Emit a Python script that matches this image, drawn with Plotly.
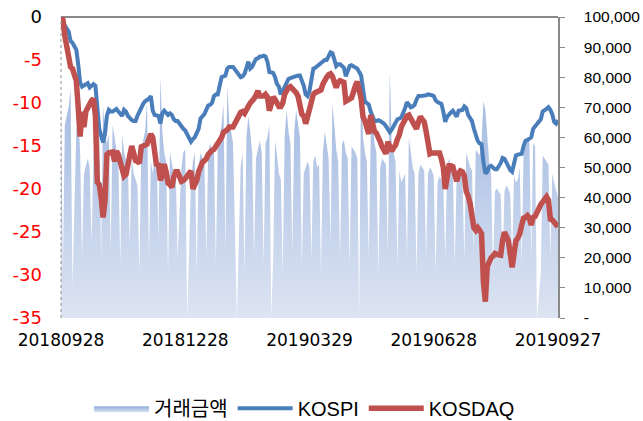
import pandas as pd
import plotly.graph_objects as go

start_date = "2018-09-28"
end_date = "2019-09-27"
market_holidays = ["2018-10-03", "2018-10-09", "2018-12-25", "2018-12-31", "2019-01-01",
                   "2019-02-04", "2019-02-05", "2019-02-06", "2019-03-01", "2019-05-01",
                   "2019-05-06", "2019-06-06", "2019-08-15", "2019-09-12", "2019-09-13"]
# closed days that appear in the trading-value series with a value of zero
zero_value_days = ["2018-12-31", "2019-02-05", "2019-03-01", "2019-05-06", "2019-09-12"]

tick_dates = ["2018-09-28", "2018-12-28", "2019-03-29", "2019-06-28", "2019-09-27"]
tick_labels = ["20180928", "20181228", "20190329", "20190628", "20190927"]

left_ticks = [-35, -30, -25, -20, -15, -10, -5, 0]
left_labels = ["-35", "-30", "-25", "-20", "-15", "-10", "-5", '<span style="color:#000000">0</span>']
right_ticks = [0, 10000, 20000, 30000, 40000, 50000, 60000, 70000, 80000, 90000, 100000]
right_labels = ["-", "10,000", "20,000", "30,000", "40,000", "50,000", "60,000", "70,000",
                "80,000", "90,000", "100,000"]

# KOSPI change (%) on each trading day
kospi = [0, -0.5, -1.0, -1.7, -2.8, -3.0, -3.8, -5.5, -7.6, -8.1,
         -8.0, -7.8, -7.7, -8.2, -8.0, -7.8, -8.0, -10.5, -13.0, -13.8,
         -14.6, -13.6, -11.5, -10.8, -11.0, -11.0, -10.9, -10.7, -11.0, -11.2,
         -11.5, -10.8, -11.0, -11.5, -11.8, -12.0, -12.1, -12.1, -11.5, -11.0,
         -10.5, -10.1, -9.8, -9.7, -9.5, -9.2, -10.9, -11.4, -11.4, -11.5,
         -12.4, -11.2, -10.9, -11.2, -11.4, -11.2, -11.4, -11.9, -12.1, -12.1,
         -12.8, -13.0, -13.2, -14.5, -14.2, -14.0, -13.5, -13.0, -11.8, -11.5,
         -11.3, -10.8, -10.3, -10.2, -10.0, -9.2, -9.0, -9.0, -8.0, -7.0,
         -6.9, -6.8, -6.0, -5.8, -5.8, -5.8, -7.0, -6.9, -6.6, -5.8,
         -5.2, -6.0, -5.8, -5.3, -4.9, -4.8, -4.6, -4.6, -4.5, -4.6,
         -5.2, -6.4, -6.5, -7.0, -7.8, -8.1, -9.0, -8.6, -8.2, -7.6,
         -7.2, -7.1, -7.0, -6.9, -6.9, -6.8, -6.8, -7.4, -8.0, -9.0,
         -9.2, -8.6, -7.5, -6.0, -5.9, -5.7, -5.6, -5.3, -5.1, -5.0,
         -5.0, -4.5, -4.1, -4.2, -5.0, -5.7, -5.5, -5.5, -5.7, -5.9,
         -6.9, -6.3, -5.7, -5.6, -5.8, -6.0, -6.8, -8.5, -9.9, -10.0,
         -10.2, -11.0, -11.6, -12.1, -12.1, -12.0, -12.1, -12.2, -12.4, -12.7,
         -13.0, -13.4, -13.1, -12.7, -12.3, -11.9, -11.8, -11.7, -10.6, -9.9,
         -10.2, -10.5, -10.4, -10.2, -9.6, -9.2, -9.2, -9.2, -9.2, -9.1,
         -9.0, -9.0, -9.1, -9.2, -9.7, -9.9, -10.0, -10.1, -11.0, -12.2,
         -11.6, -11.3, -11.1, -10.9, -11.2, -11.6, -10.9, -10.9, -10.8, -10.4,
         -10.6, -11.4, -11.8, -12.1, -13.0, -13.8, -14.4, -14.7, -14.8, -16.9,
         -18.2, -18.0, -17.4, -17.3, -17.5, -17.7, -17.7, -17.0, -16.4, -16.5,
         -16.9, -17.4, -17.8, -18.0, -17.0, -16.1, -16.0, -16.0, -15.9, -15.0,
         -14.4, -14.3, -14.2, -14.0, -13.0, -12.7, -11.9, -11.0, -10.9, -10.7,
         -10.5, -10.8, -11.3, -12.2, -12.4, -12.0]

# KOSDAQ change (%) on each trading day
kosdaq = [0, -0.3, -2.2, -5.0, -5.8, -6.0, -7.4, -10.5, -13.9, -11.0,
          -12.8, -11.0, -10.5, -10.1, -9.7, -9.5, -11.5, -19.2, -19.5, -21.0,
          -23.3, -21.4, -16.0, -15.8, -15.8, -15.7, -16.8, -15.6, -16.0, -17.1,
          -18.2, -18.5, -18.3, -17.0, -15.9, -15.0, -15.8, -16.7, -16.8, -17.0,
          -15.1, -15.0, -14.9, -14.8, -14.2, -13.6, -14.0, -16.5, -17.3, -17.0,
          -19.0, -18.4, -17.1, -18.0, -19.3, -19.5, -19.8, -18.6, -18.0, -18.0,
          -19.1, -19.0, -18.8, -17.9, -20.0, -19.5, -19.0, -18.0, -17.3, -16.9,
          -16.7, -16.5, -16.0, -15.6, -15.5, -15.4, -15.1, -14.8, -14.5, -14.0,
          -13.4, -13.3, -13.1, -12.8, -12.8, -12.8, -11.1, -11.0, -11.2, -10.6,
          -10.4, -10.0, -9.8, -9.5, -9.1, -8.6, -9.2, -9.2, -9.2, -9.0,
          -9.3, -10.9, -9.3, -9.6, -10.0, -10.4, -10.4, -10.0, -9.0, -8.4,
          -8.2, -8.1, -8.3, -8.6, -8.8, -9.2, -10.5, -11.3, -11.5, -12.4,
          -11.6, -10.5, -9.3, -9.0, -8.8, -8.7, -8.6, -8.5, -7.8, -7.2,
          -7.0, -6.7, -6.6, -6.9, -7.5, -8.2, -7.6, -7.4, -7.5, -7.6,
          -9.8, -9.7, -9.6, -9.4, -8.0, -7.5, -9.5, -11.6, -12.1, -12.8,
          -13.6, -11.4, -12.3, -13.3, -13.5, -13.9, -14.5, -15.1, -15.5, -15.9,
          -14.5, -15.0, -15.6, -15.2, -14.9, -14.2, -13.7, -12.8, -11.9, -11.5,
          -11.4, -11.8, -12.4, -12.7, -13.0, -12.2, -11.6, -11.9, -12.2, -13.3,
          -14.5, -15.9, -15.8, -15.8, -15.8, -15.7, -15.8, -16.5, -17.5, -20.0,
          -18.0, -17.3, -17.3, -17.4, -18.3, -19.1, -18.2, -17.9, -18.0, -18.5,
          -20.3, -20.8, -21.7, -23.0, -24.5, -24.8, -24.5, -24.8, -25.2, -30.9,
          -33.1, -29.0, -28.4, -28.0, -27.8, -27.5, -27.6, -27.7, -26.0, -25.0,
          -25.5, -26.0, -27.5, -29.1, -27.5, -26.0, -25.7, -25.2, -24.2, -23.4,
          -23.3, -23.1, -23.4, -24.2, -23.3, -23.2, -21.8, -21.4, -21.0, -20.9,
          -21.3, -23.5, -23.6, -23.8, -24.0, -24.4]

# trading value on each trading day (one row per week)
trading_value = [72000,
                 15000, 64000, 70000, 76000,
                 10000, 62000, 68000, 55000,
                 20000, 48000, 51000, 53000, 50000,
                 25000, 55000, 60000, 76000, 65000,
                 20000, 70000, 62000, 58000, 61000,
                 22000, 64000, 60000, 55000, 52000,
                 18000, 61000, 55000, 52000, 50000,
                 25000, 53000, 48000, 46000, 44000,
                 15000, 56000, 59000, 62000, 72000,
                 20000, 52000, 48000, 53000, 55000,
                 25000, 80000, 62000, 55000, 52000,
                 15000, 55000, 52000, 48000, 50000,
                 20000, 50000, 55000, 56000,
                 45000, 52000, 55000,
                 15000, 50000, 55000, 53000, 52000,
                 20000, 55000, 58000, 56000, 57000,
                 18000, 56000, 60000, 64000, 71000,
                 22000, 77000, 65000, 62000, 58000,
                 50000, 55000,
                 15000, 60000, 67000, 62000, 55000,
                 20000, 53000, 56000, 59000, 55000,
                 18000, 58000, 60000, 64000,
                 20000, 59000, 54000, 48000, 46000,
                 15000, 60000, 69000, 62000, 58000,
                 22000, 62000, 69000, 64000, 60000,
                 18000, 48000, 50000, 52000, 50000,
                 20000, 52000, 54000, 50000, 51000,
                 15000, 55000, 62000, 58000, 53000,
                 25000, 71000, 64000, 56000, 52000,
                 20000, 58000, 59000, 55000, 53000,
                 18000, 57000, 55000, 53000,
                 83000, 60000, 55000, 52000,
                 20000, 60000, 66000, 58000, 55000,
                 15000, 50000, 53000, 52000, 51000,
                 22000, 82000, 58000, 55000, 52000,
                 18000, 49000, 45000, 48000,
                 20000, 60000, 55000, 50000, 48000,
                 15000, 48000, 51000, 50000, 49000,
                 20000, 48000, 50000, 49000, 47000,
                 15000, 45000, 47000, 46000, 44000,
                 20000, 50000, 53000, 50000, 48000,
                 18000, 48000, 50000, 49000, 47000,
                 20000, 55000, 52000, 50000, 49000,
                 22000, 56000, 55000, 54000, 58000,
                 72000, 69000, 60000, 52000, 48000,
                 15000, 42000, 43000, 41000,
                 18000, 42000, 44000, 43000, 41000,
                 20000, 47000, 45000, 46000, 50000,
                 18000, 55000, 57000, 59000, 60000,
                 20000, 58000, 57000,
                 15000, 54000, 53000, 52000, 51000,
                 20000, 48000, 45000, 42000, 40000]

trade_days = [d for d in pd.bdate_range(start_date, end_date)
              if d.strftime("%Y-%m-%d") not in market_holidays]

value_rows = sorted(list(zip(trade_days, trading_value)) +
                    [(pd.Timestamp(d), 0) for d in zero_value_days])
value_x = [r[0] for r in value_rows]
value_y = [r[1] for r in value_rows]

FONT = "DejaVu Sans, Noto Sans CJK KR, sans-serif"
FONT2 = "Liberation Sans, Arial, Noto Sans CJK KR, sans-serif"
AXIS_GRAY = "#898989"

fig = go.Figure()
fig.add_trace(go.Scatter(
    x=value_x, y=value_y, name="거래금액", mode="lines",
    line=dict(width=0, color="#b4c7e7"), fill="tozeroy",
    fillgradient=dict(type="vertical", start=0, stop=100000,
                      colorscale=[[0, "#dde4f2"], [1, "#90acdc"]]),
    yaxis="y"))
fig.add_trace(go.Scatter(
    x=trade_days, y=kospi, name="KOSPI", mode="lines",
    line=dict(color="#4A7EBB", width=4), yaxis="y2"))
fig.add_trace(go.Scatter(
    x=trade_days, y=kosdaq, name="KOSDAQ", mode="lines",
    line=dict(color="#C0504D", width=5.5), yaxis="y2"))

fig.update_layout(
    width=643, height=421,
    margin=dict(l=61, r=85, t=17, b=103, autoexpand=False),
    paper_bgcolor="white", plot_bgcolor="white",
    font=dict(family=FONT, size=16, color="#000000"),
    showlegend=True,
    legend=dict(orientation="h", x=0.49, xanchor="center", y=-0.30, yanchor="middle",
                itemwidth=55,
                font=dict(size=20, family=FONT2), bgcolor="rgba(0,0,0,0)"),
    xaxis=dict(type="date", range=[start_date, end_date], tickvals=tick_dates,
               ticktext=tick_labels, rangebreaks=[dict(bounds=["sat", "mon"])],
               showgrid=False, showline=False, zeroline=False, automargin=False,
               ticks="", tickfont=dict(size=17), ticklabelstandoff=10),
    yaxis=dict(side="right", range=[0, 100000], tickvals=right_ticks, ticktext=right_labels,
               showgrid=False, zeroline=False, showline=True, linecolor=AXIS_GRAY,
               linewidth=1.5, ticks="outside", ticklen=5, tickcolor=AXIS_GRAY,
               automargin=False, tickfont=dict(size=15.5, family=FONT2), ticklabelstandoff=16),
    yaxis2=dict(overlaying="y", side="left", range=[-35, 0], tickvals=left_ticks,
                ticktext=left_labels, showgrid=False, showline=False, zeroline=True,
                zerolinecolor=AXIS_GRAY, zerolinewidth=1.5, ticks="", automargin=False,
                tickfont=dict(size=18, color="#FF0000"), ticklabelstandoff=18),
    shapes=[dict(type="line", xref="paper", yref="paper", x0=0, x1=0, y0=0, y1=1,
                 line=dict(color="#909090", width=1, dash="dot"), layer="above")],
)

fig.write_html("out.html", config={"displayModeBar": False},
               post_script="document.body.style.margin='0';")
